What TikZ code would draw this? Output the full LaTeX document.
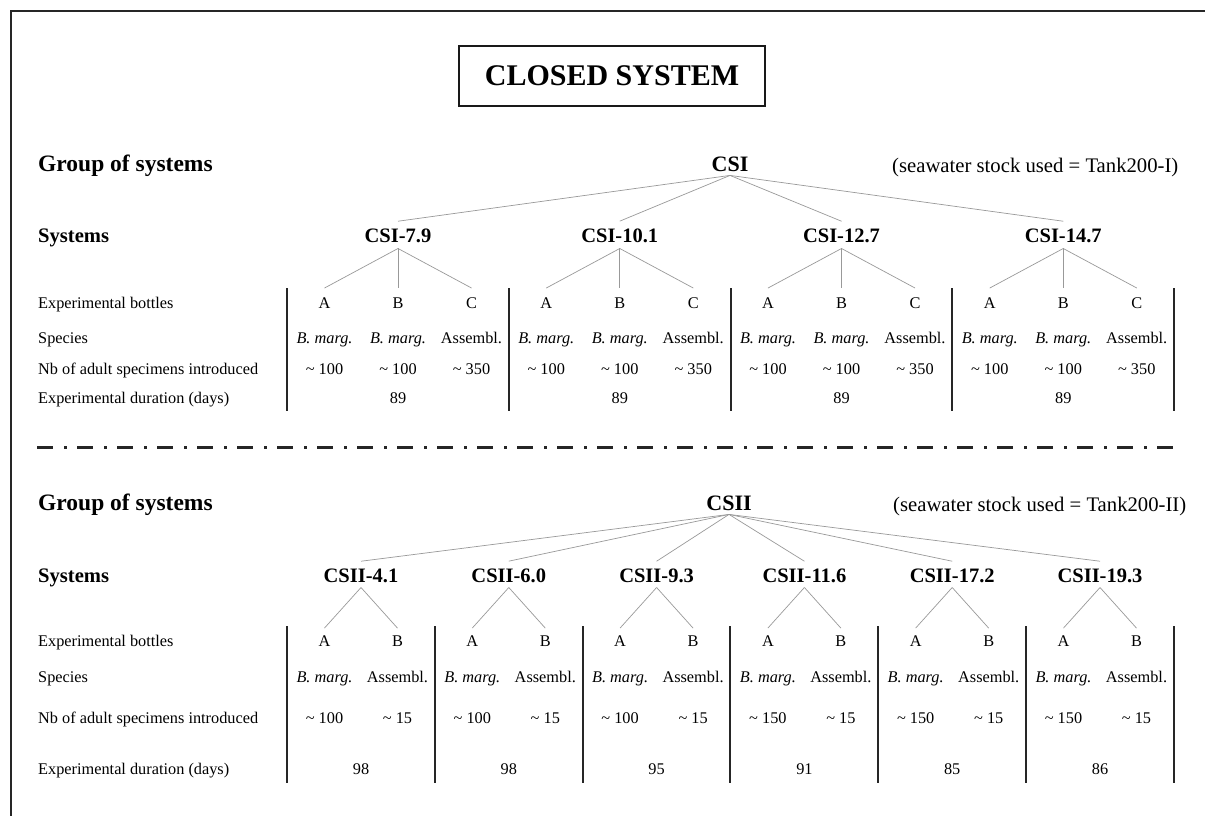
\documentclass[tikz,border=0pt]{standalone}
\usepackage{fontspec}
\setmainfont{Liberation Serif}
\usetikzlibrary{calc}
\tikzset{
  framestyle/.style={draw=black!85, line width=2pt},
  titlebox/.style={draw=black!90, line width=2.6pt, minimum width=306pt, minimum height=60pt, inner sep=0pt, font=\bfseries\fontsize{30}{32}\selectfont},
  grp/.style={font=\bfseries\fontsize{23.5}{26}\selectfont, inner sep=0pt, anchor=base west},
  syslab/.style={font=\bfseries\fontsize{20.6}{24}\selectfont, inner sep=0pt, anchor=base west},
  sysname/.style={font=\bfseries\fontsize{20.5}{24}\selectfont, inner sep=0pt, anchor=base},
  groupname/.style={font=\bfseries\fontsize{22}{24}\selectfont, inner sep=0pt, anchor=base},
  note/.style={font=\fontsize{20.7}{24}\selectfont, inner sep=0pt, anchor=base west},
  rowlab/.style={font=\fontsize{16.3}{18}\selectfont, inner sep=0pt, anchor=base west},
  cell/.style={font=\fontsize{16.3}{18}\selectfont, inner sep=0pt, anchor=base},
  branch/.style={draw=black!40, line width=0.7pt},
  sepline/.style={draw=black!85, line width=2pt},
  dashdot/.style={draw=black!85, line width=3pt, dash pattern=on 16pt off 11pt on 3pt off 10pt},
}
\begin{document}
\begin{tikzpicture}[x=1pt,y=-1pt]
\useasboundingbox (0,0) rectangle (1205,816);
\fill[white] (0,0) rectangle (1205,816);
\draw[framestyle] (11,816) -- (11,11) -- (1205,11);

\node[titlebox] (title) at (612,76) {CLOSED SYSTEM};

% ---------- upper group ----------
\node[grp] (g1) at (38,171) {Group of systems};
\node[syslab] (sy1) at (38,242) {Systems};
\node[rowlab] (r1a) at (38,308) {Experimental bottles};
\node[rowlab] (r1b) at (38,343) {Species};
\node[rowlab] (r1c) at (38,374) {Nb of adult specimens introduced};
\node[rowlab] (r1d) at (38,403) {Experimental duration (days)};
\node[groupname] (CSI) at (730,171) {CSI};
\node[note] (w1) at (892,172) {(seawater stock used = Tank200-I)};

\foreach \nm [count=\i from 0] in {CSI-7.9,CSI-10.1,CSI-12.7,CSI-14.7} {
  \pgfmathsetmacro\cx{398+221.75*\i}
  \node[sysname] (t\i) at (\cx,242) {\nm};
  \draw[branch] ([yshift=-4pt]CSI.south) -- ([yshift=7pt]t\i.north);
  \node[cell] (ta\i) at (\cx-73.5,308) {A};
  \node[cell] (tb\i) at (\cx,308) {B};
  \node[cell] (tc\i) at (\cx+73.5,308) {C};
  \draw[branch] ([yshift=-6pt]t\i.south) -- ([yshift=9pt]ta\i.north);
  \draw[branch] ([yshift=-6pt]t\i.south) -- ([yshift=9pt]tb\i.north);
  \draw[branch] ([yshift=-6pt]t\i.south) -- ([yshift=9pt]tc\i.north);
  \node[cell] (tsa\i) at (\cx-73.5,343) {\textit{B. marg.}};
  \node[cell] (tsb\i) at (\cx,343) {\textit{B. marg.}};
  \node[cell] (tsc\i) at (\cx+73.5,343) {Assembl.};
  \node[cell] (tna\i) at (\cx-73.5,374) {\textasciitilde{} 100};
  \node[cell] (tnb\i) at (\cx,374) {\textasciitilde{} 100};
  \node[cell] (tnc\i) at (\cx+73.5,374) {\textasciitilde{} 350};
  \node[cell] (td\i) at (\cx,403) {89};
}
\foreach \k in {0,...,4} {
  \draw[sepline] (287+221.75*\k,288) -- (287+221.75*\k,411);
}

\draw[dashdot] (37,447) -- (1177,447);

% ---------- lower group ----------
\node[grp] (g2) at (38,510) {Group of systems};
\node[syslab] (sy2) at (38,582) {Systems};
\node[rowlab] (r2a) at (38,646) {Experimental bottles};
\node[rowlab] (r2b) at (38,682) {Species};
\node[rowlab] (r2c) at (38,723) {Nb of adult specimens introduced};
\node[rowlab] (r2d) at (38,774) {Experimental duration (days)};
\node[groupname] (CSII) at (729,510) {CSII};
\node[note] (w2) at (893,511) {(seawater stock used = Tank200-II)};

\foreach \nm/\na/\du [count=\i from 0] in {CSII-4.1/100/98,CSII-6.0/100/98,CSII-9.3/100/95,CSII-11.6/150/91,CSII-17.2/150/85,CSII-19.3/150/86} {
  \pgfmathsetmacro\cx{361+147.8*\i}
  \node[sysname] (u\i) at (\cx,582) {\nm};
  \draw[branch] ([yshift=-4pt]CSII.south) -- ([yshift=7pt]u\i.north);
  \node[cell] (ua\i) at (\cx-36.5,646) {A};
  \node[cell] (ub\i) at (\cx+36.5,646) {B};
  \draw[branch] ([yshift=-5pt]u\i.south) -- ([yshift=7pt]ua\i.north);
  \draw[branch] ([yshift=-5pt]u\i.south) -- ([yshift=7pt]ub\i.north);
  \node[cell] (usa\i) at (\cx-36.5,682) {\textit{B. marg.}};
  \node[cell] (usb\i) at (\cx+36.5,682) {Assembl.};
  \node[cell] (una\i) at (\cx-36.5,723) {\textasciitilde{} \na};
  \node[cell] (unb\i) at (\cx+36.5,723) {\textasciitilde{} 15};
  \node[cell] (ud\i) at (\cx,774) {\du};
}
\foreach \k in {0,...,6} {
  \draw[sepline] (287+147.83*\k,626) -- (287+147.83*\k,783);
}
\end{tikzpicture}
\end{document}
